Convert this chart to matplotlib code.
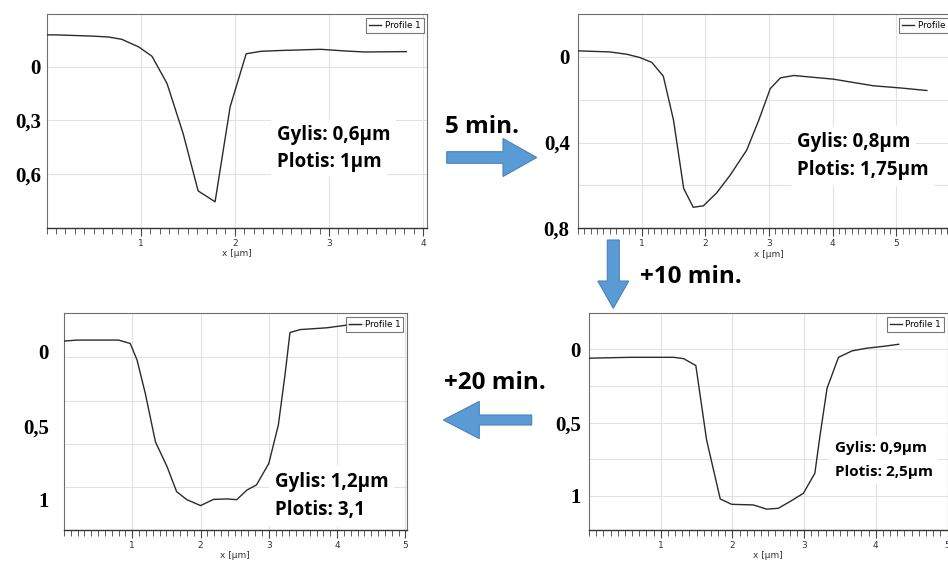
import matplotlib
matplotlib.use("Agg")
import matplotlib.pyplot as plt
from matplotlib.patches import FancyArrow
from matplotlib.ticker import MultipleLocator

# ---- profile data: x position [µm] and depth [µm] (depth grows downward) ----
p1_x = [0.0, 0.1, 0.49, 0.66, 0.80, 0.98, 1.12, 1.28, 1.45, 1.61, 1.79, 1.95,
        2.12, 2.28, 2.52, 2.91, 3.19, 3.38, 3.82]
p1_z = [-0.18, -0.18, -0.173, -0.168, -0.155, -0.112, -0.06, 0.093, 0.372,
        0.695, 0.756, 0.223, -0.074, -0.088, -0.093, -0.099, -0.089, -0.084, -0.086]

p2_x = [0.0, 0.5, 0.77, 0.97, 1.16, 1.34, 1.5, 1.66, 1.81, 1.97, 2.18, 2.39,
        2.65, 2.84, 3.02, 3.18, 3.39, 4.01, 4.64, 5.06, 5.48]
p2_z = [-0.028, -0.023, -0.012, 0.003, 0.026, 0.09, 0.295, 0.614, 0.702, 0.695,
        0.634, 0.552, 0.435, 0.295, 0.148, 0.098, 0.087, 0.104, 0.135, 0.145, 0.157]

p3_x = [0.0, 0.19, 0.8, 0.97, 1.07, 1.19, 1.34, 1.51, 1.65, 1.8, 2.0, 2.19,
        2.39, 2.53, 2.68, 2.82, 3.0, 3.14, 3.24, 3.31, 3.46, 3.85, 4.14, 4.4]
p3_z = [-0.072, -0.079, -0.079, -0.056, 0.056, 0.28, 0.61, 0.777, 0.946, 1.0,
        1.04, 0.998, 0.995, 1.0, 0.935, 0.9, 0.755, 0.495, 0.146, -0.13, -0.15,
        -0.162, -0.18, -0.185]

p4_x = [0.0, 0.57, 1.18, 1.32, 1.49, 1.64, 1.83, 1.99, 2.29, 2.48, 2.64, 2.8,
        2.99, 3.15, 3.22, 3.32, 3.48, 3.67, 3.87, 4.11, 4.32]
p4_z = [0.061, 0.055, 0.055, 0.064, 0.111, 0.618, 1.02, 1.057, 1.061, 1.09,
        1.084, 1.039, 0.982, 0.845, 0.595, 0.266, 0.055, 0.011, -0.007, -0.02, -0.034]

# ---- axis labels and annotations ----
p1_xticks = [1, 2, 3, 4]
p2_xticks = [1, 2, 3, 4, 5]
p3_xticks = [1, 2, 3, 4, 5]
p4_xticks = [1, 2, 3, 4, 5]

p1_yticks, p1_ylabels = [0, 0.3, 0.6], ["0", "0,3", "0,6"]
p2_yticks, p2_ylabels = [0, 0.4, 0.8], ["0", "0,4", "0,8"]
p3_yticks, p3_ylabels = [0, 0.5, 1.0], ["0", "0,5", "1"]
p4_yticks, p4_ylabels = [0, 0.5, 1.0], ["0", "0,5", "1"]

p1_note = ["Gylis: 0,6µm", "Plotis: 1µm"]
p2_note = ["Gylis: 0,8µm", "Plotis: 1,75µm"]
p3_note = ["Gylis: 1,2µm", "Plotis: 3,1"]
p4_note = ["Gylis: 0,9µm", "Plotis: 2,5µm"]

step_labels = ["5 min.", "+10 min.", "+20 min."]

W, H = 948, 562
fig = plt.figure(figsize=(W / 100, H / 100), dpi=100)
fig.patch.set_facecolor("white")

SERIF = ["Liberation Serif", "DejaVu Serif"]
SANS = ["Open Sans", "DejaVu Sans"]


def px_axes(x0, y0, x1, y1):
    return fig.add_axes([x0 / W, 1 - y1 / H, (x1 - x0) / W, (y1 - y0) / H])


def profile_panel(box, x, z, xlim, ylim, xticks, yticks, ylabels, ygrid, ypad):
    ax = px_axes(*box)
    ax.plot(x, z, color="#2b2b2b", lw=1.0, label="Profile 1", zorder=3)
    ax.set_xlim(*xlim)
    ax.set_ylim(*ylim)
    ax.xaxis.set_minor_locator(MultipleLocator(0.1))
    ax.set_xticks(xticks)
    ax.set_xticklabels([str(t) for t in xticks], fontsize=6.5, color="#333344")
    ax.tick_params(axis="x", which="major", length=6, width=0.8,
                   color="#444444", pad=2, direction="out")
    ax.tick_params(axis="x", which="minor", length=4, width=0.6,
                   color="#444444", direction="out")
    ax.set_xlabel("x [µm]", fontsize=6.5, color="#333344", labelpad=1)
    ax.set_yticks(yticks)
    ax.set_yticklabels(ylabels, family=SERIF, fontweight="bold", fontsize=15,
                       color="black")
    ax.tick_params(axis="y", which="both", length=0, pad=ypad)
    for gx in xticks:
        ax.axvline(gx, color="#e2e2e2", lw=0.8, zorder=1)
    for gy in ygrid:
        ax.axhline(gy, color="#e2e2e2", lw=0.8, zorder=1)
    for side in ("top", "right", "left"):
        ax.spines[side].set_color("#6e6e6e")
        ax.spines[side].set_linewidth(0.8)
    ax.spines["bottom"].set_color("#333333")
    ax.spines["bottom"].set_linewidth(1.0)
    leg = ax.legend(loc="upper right", fontsize=6.3, frameon=True, fancybox=False,
                    handlelength=1.4, handletextpad=0.4, borderpad=0.35,
                    borderaxespad=0.4)
    leg.get_frame().set_edgecolor("#555555")
    leg.get_frame().set_linewidth(0.8)
    return ax


profile_panel((46.5, 14, 427, 228), p1_x, p1_z, (0, 4.04), (0.903, -0.297),
              p1_xticks, p1_yticks, p1_ylabels, [0, 0.3, 0.6], 4)
profile_panel((578, 14, 960, 228.3), p2_x, p2_z, (0, 6.0), (0.8, -0.2),
              p2_xticks, p2_yticks, p2_ylabels, [0, 0.2, 0.4, 0.6], 6)
profile_panel((64, 313.3, 406.7, 530), p3_x, p3_z, (0, 5.02), (1.205, -0.26),
              p3_xticks, p3_yticks, p3_ylabels, [0.038, 0.331, 0.624, 0.917], 11)
profile_panel((589, 313.3, 947.5, 530), p4_x, p4_z, (0, 5.0), (1.232, -0.245),
              p4_xticks, p4_yticks, p4_ylabels, [0, 0.25, 0.5, 0.75, 1.0], 6)

# ---- overlay in pixel coordinates: arrows and notes ----
ov = fig.add_axes([0, 0, 1, 1])
ov.set_xlim(0, W)
ov.set_ylim(H, 0)
ov.axis("off")

ARROW_FC, ARROW_EC = "#5b9bd5", "#4a82bb"
arrows = [
    dict(x=446.7, y=157.5, dx=90.0, dy=0.0, width=11.6, head_width=38, head_length=33.7),
    dict(x=613.3, y=240.0, dx=0.0, dy=68.3, width=12.0, head_width=31, head_length=27.3),
    dict(x=531.7, y=420.0, dx=-88.4, dy=0.0, width=10.0, head_width=37.3, head_length=36.0),
]
for a in arrows:
    ov.add_patch(FancyArrow(a["x"], a["y"], a["dx"], a["dy"], width=a["width"],
                            head_width=a["head_width"], head_length=a["head_length"],
                            length_includes_head=True, fc=ARROW_FC, ec=ARROW_EC,
                            lw=0.8))

ov.text(482.5, 126.7, step_labels[0], family=SANS, fontweight="bold",
        fontsize=17.5, ha="center", va="center")
ov.text(640, 276.7, step_labels[1], family=SANS, fontweight="bold",
        fontsize=17.5, ha="left", va="center")
ov.text(444, 383.3, step_labels[2], family=SANS, fontweight="bold",
        fontsize=17.5, ha="left", va="center")


def note(lines, x, ys, size):
    for line, y in zip(lines, ys):
        ov.text(x, y, line, family=SANS, fontweight="bold", fontsize=size,
                ha="left", va="center", color="black",
                bbox=dict(fc="white", ec="none", pad=4))


note(p1_note, 276.7, (135, 161.7), 13.5)
note(p2_note, 796.7, (141.7, 170), 13.5)
note(p3_note, 275, (481.7, 510), 13.5)
note(p4_note, 835, (448.3, 471.7), 11)

fig.savefig("out.png", dpi=100, facecolor="white")
